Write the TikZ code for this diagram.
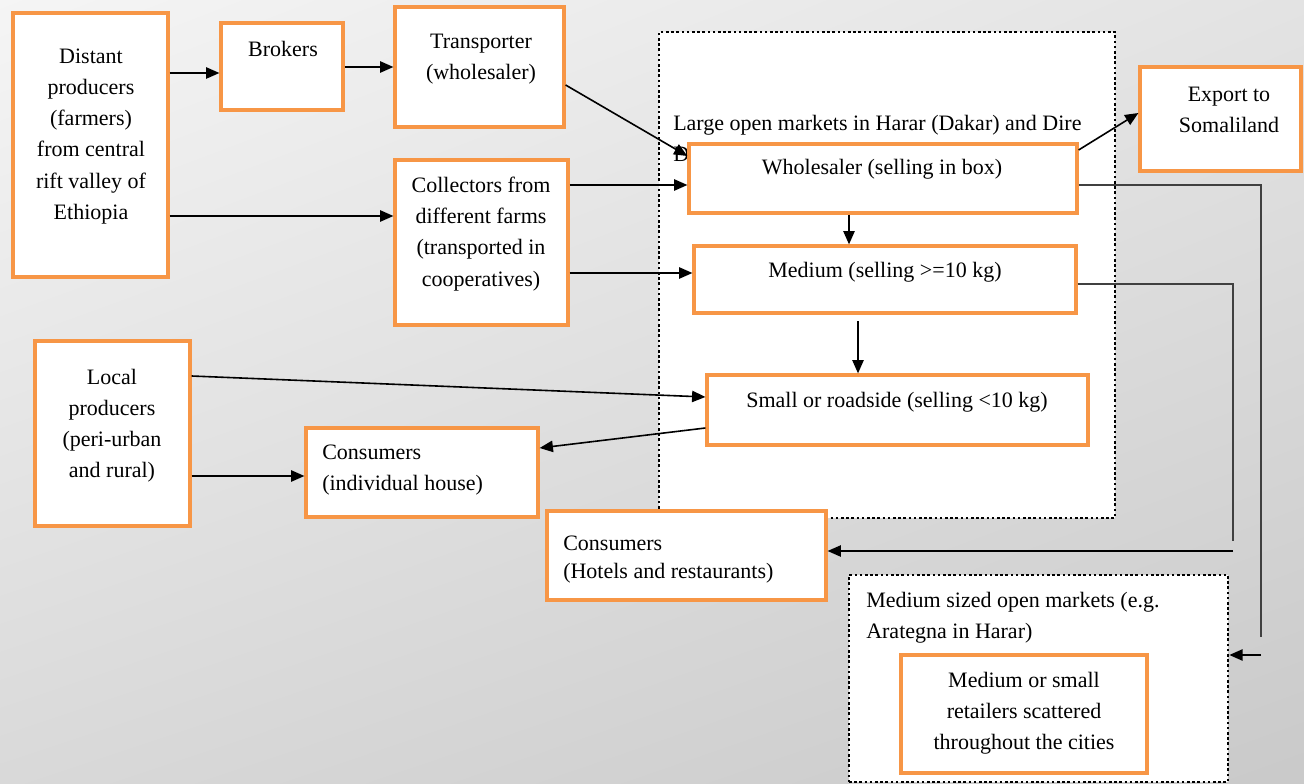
\documentclass[tikz,border=0pt]{standalone}
\usepackage{fontspec}
\setmainfont{Liberation Serif}
\usetikzlibrary{arrows.meta,fit,calc,shadings}
\definecolor{borange}{HTML}{F79646}
\tikzset{
 box/.style={draw=borange, line width=2.4pt, fill=white, inner sep=0pt},
 dotbox/.style={draw=black, line width=2pt, dash pattern=on 2pt off 1.9pt, fill=white, inner sep=0pt},
 txt/.style={font=\fontsize{16.5}{23.3}\selectfont, align=center, inner sep=0pt},
 arr/.style={-{Triangle[length=10pt,width=8.5pt]}, line width=1.2pt, draw=black},
 feed/.style={line width=0.9pt, draw=black!75},
}
\begin{document}
\begin{tikzpicture}[x=0.75pt,y=-0.75pt]
\useasboundingbox (0,0) rectangle (1304,784);
\shade[upper left=gray!8, upper right=gray!22, lower left=gray!30, lower right=gray!42] (0,0) rectangle (1304,784);

% dotted market areas
\node[dotbox, fit={(659,32)(1115,518)}] (lg) {};
\node[dotbox, fit={(849,575)(1228,782)}] (msd) {};
\node[txt, align=left, anchor=west] (lgT) at (673,138.5) {Large open markets in Harar (Dakar) and Dire\\Dawa};
\node[txt, align=left, anchor=west] (msdT) at (866,618) {Medium sized open markets (e.g.\\Arategna in Harar)};

% boxes
\node[box, fit={(13,13)(168,277)}] (dist) {};
\node[box, fit={(221,23)(343,110)}] (brk) {};
\node[box, fit={(395,7)(564,127)}] (trn) {};
\node[box, fit={(395,160)(568,325)}] (col) {};
\node[box, fit={(689,144)(1077,213)}] (whl) {};
\node[box, fit={(694,246)(1076,313)}] (med) {};
\node[box, fit={(707,375)(1088,445)}] (sml) {};
\node[box, fit={(1140,67)(1301,171)}] (exp) {};
\node[box, fit={(35,341)(190,526)}] (loc) {};
\node[box, fit={(306,428)(538,517)}] (cin) {};
\node[box, fit={(547,511)(826,600)}] (cho) {};
\node[box, fit={(901,655)(1147,773)}] (ret) {};

% texts
\node[txt] (distT) at (91,136.5) {Distant\\producers\\(farmers)\\from central\\rift valley of\\Ethiopia};
\node[txt] (brkT) at (283,49) {Brokers};
\node[txt] (trnT) at (481,59) {Transporter\\(wholesaler)};
\node[txt] (colT) at (481,234) {Collectors from\\different farms\\(transported in\\cooperatives)};
\node[txt] (whlT) at (882,169) {Wholesaler (selling in box)};
\node[txt] (medT) at (885,272) {Medium (selling >=10 kg)};
\node[txt] (smlT) at (897,402) {Small or roadside (selling <10 kg)};
\node[txt] (expT) at (1229,110) {Export to\\Somaliland};
\node[txt] (locT) at (112,425.5) {Local\\producers\\(peri-urban\\and rural)};
\node[txt, align=left, anchor=west] (cinT) at (322,470.5) {Consumers\\(individual house)};
\node[txt, align=left, anchor=west, font=\fontsize{16.5}{21}\selectfont] (choT) at (563,559.5) {Consumers\\(Hotels and restaurants)};
\node[txt] (retT) at (1024,713) {Medium or small\\retailers scattered\\throughout the cities};

% free ends
\coordinate (f1) at (1261,637);
\coordinate (f1s) at (1261,655);
\coordinate (f2) at (1233,541);
\coordinate (f2s) at (1233,551);

% connectors
\draw[arr] (dist.east |- 0,73) -- (brk.west |- 0,73);
\draw[arr] (brk.east |- 0,67) -- (trn.west |- 0,67);
\draw[arr] (trn.east |- 0,85) -- (whl.west |- 0,156);
\draw[arr] (dist.east |- 0,216) -- (col.west |- 0,216);
\draw[arr] (col.east |- 0,185) -- (whl.west |- 0,185);
\draw[arr] (col.east |- 0,273) -- (med.west |- 0,273);
\draw[arr] (whl.south -| 849,0) -- (med.north -| 849,0);
\draw[arr, shorten <=5pt] (med.south -| 858,0) -- (sml.north -| 858,0);
\draw[arr] (whl.east |- 0,150) -- (exp.west |- 0,113);
\draw[arr] (loc.east |- 0,376) -- (sml.west |- 0,397);
\draw[arr] (sml.west |- 0,428) -- (cin.east |- 0,448);
\draw[arr] (loc.east |- 0,476) -- (cin.west |- 0,476);
\draw[feed] (whl.east |- 0,185) -| (f1);
\draw[arr] (f1s) -- (msd.east |- f1s);
\draw[feed] (med.east |- 0,284) -| (f2);
\draw[arr] (f2s) -- (cho.east |- f2s);
\end{tikzpicture}
\end{document}
